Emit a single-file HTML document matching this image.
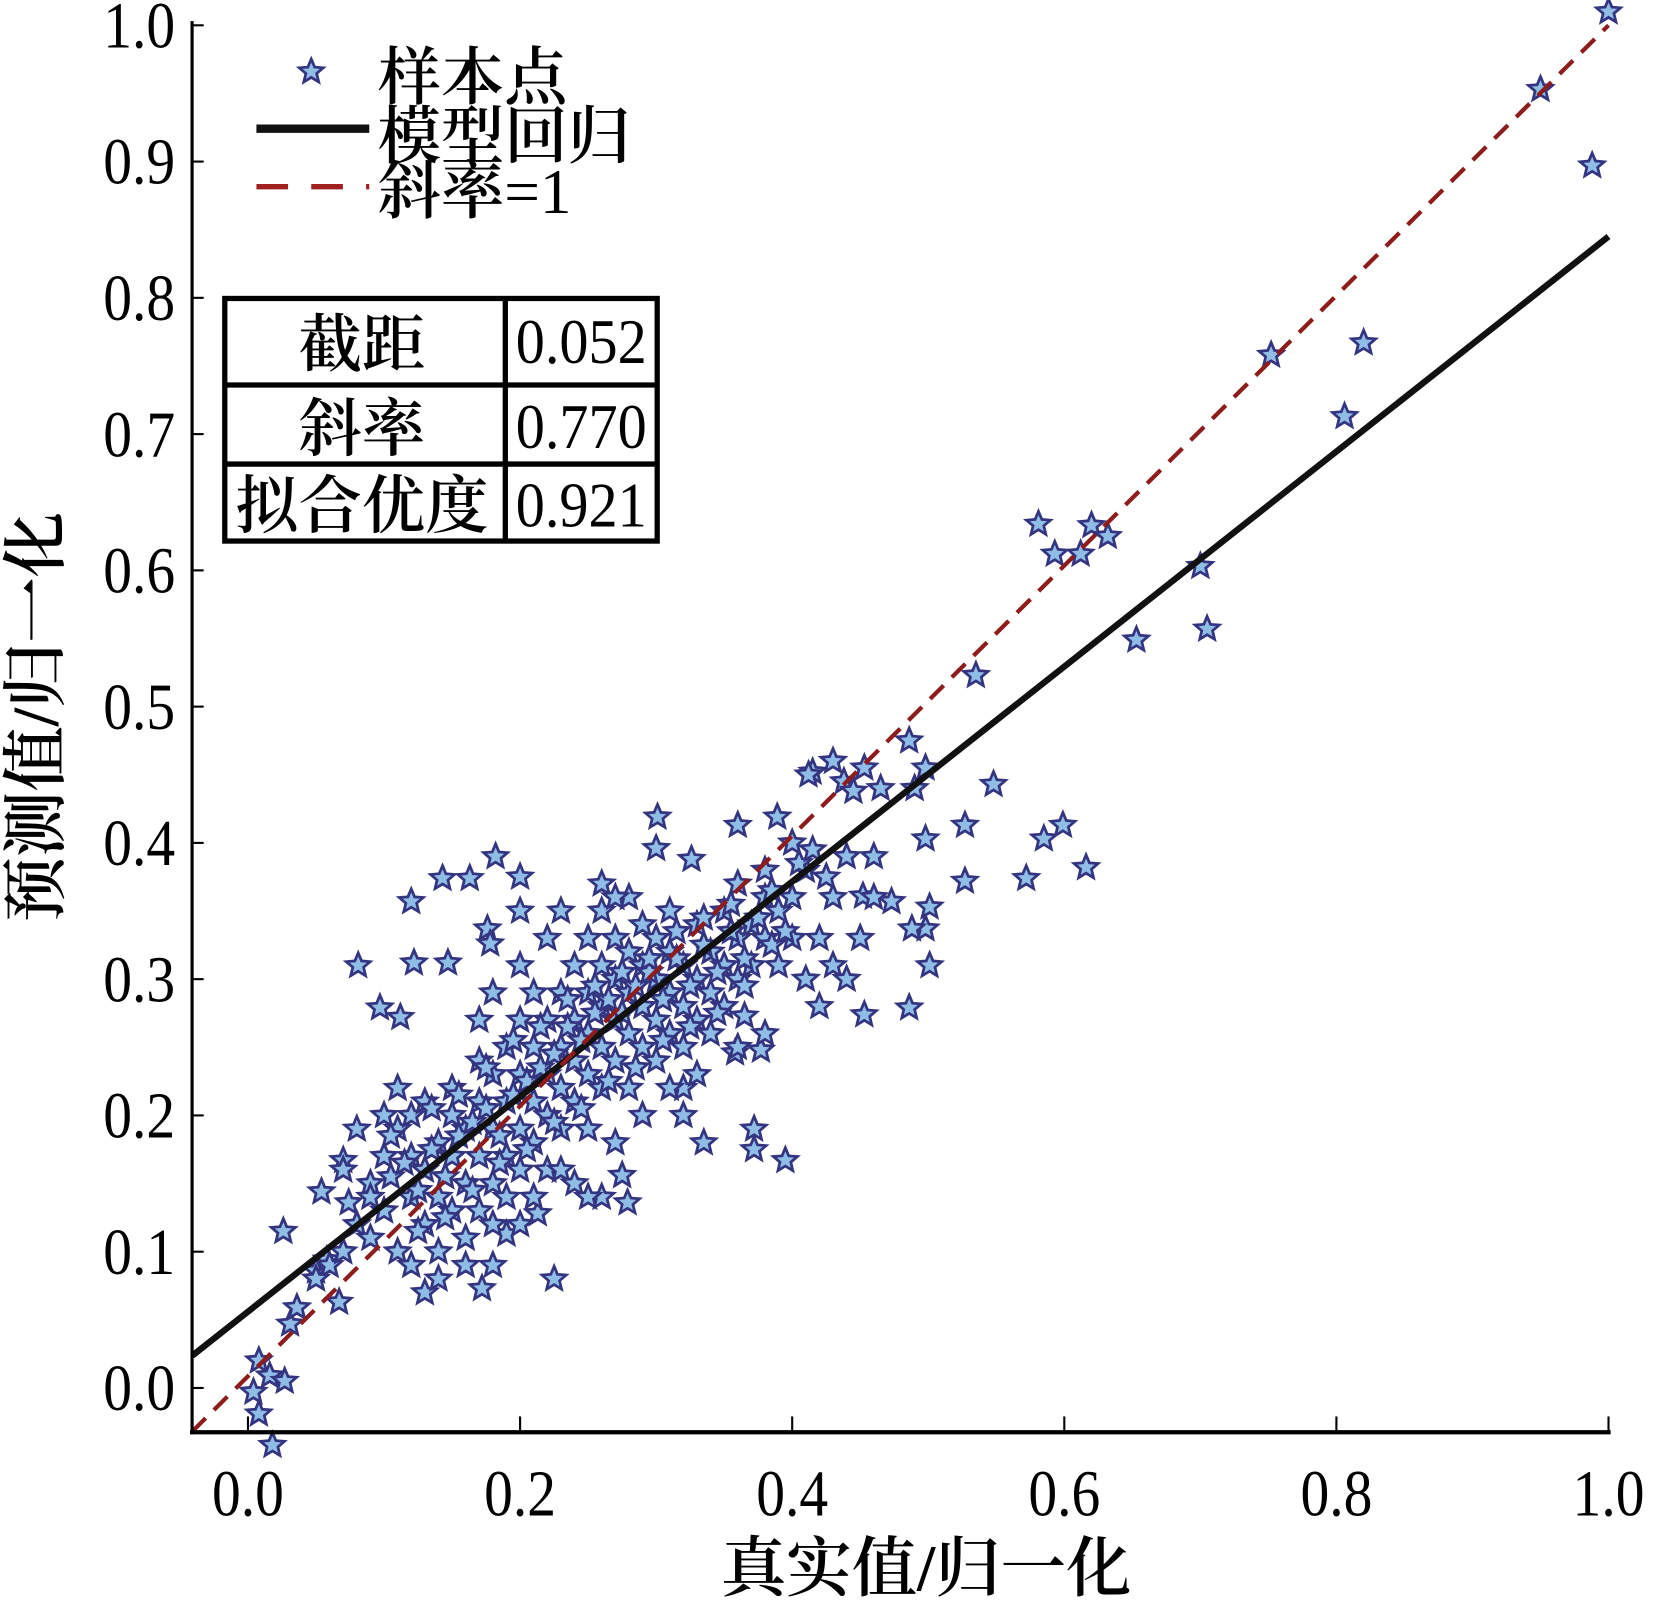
<!DOCTYPE html>
<html><head><meta charset="utf-8"><style>
html,body{margin:0;padding:0;background:#fff;}
svg{display:block;}
text{font-family:"Liberation Serif","Noto Serif CJK SC",serif;fill:#000;}
.cjk{font-weight:600;}
</style></head><body>
<svg id="chart" width="1654" height="1601" viewBox="0 0 1568 1518" xmlns="http://www.w3.org/2000/svg">
<g id="pts"></g>
<g id="lines"></g>
<g id="axes"></g>
<text class="cjk" x="878" y="1508" font-size="62" text-anchor="middle">真实值/归一化</text>
<text class="cjk" transform="translate(55,680) rotate(-90)" font-size="62" text-anchor="middle">预测值/归一化</text>
<g>
<g id="legstar"></g>
<text class="cjk" x="358" y="94" font-size="60">样本点</text>
<line x1="243" y1="122" x2="350" y2="122" stroke="#111" stroke-width="8"/>
<text class="cjk" x="358" y="150" font-size="60">模型回归</text>
<line x1="243" y1="177" x2="350" y2="177" stroke="#a02020" stroke-width="5" stroke-dasharray="30 22"/>
<text class="cjk" x="358" y="202" font-size="60">斜率<tspan font-weight="normal">=1</tspan></text>
</g>
<g font-size="60">
<rect x="213" y="283" width="410" height="230" fill="#fff" stroke="#000" stroke-width="5"/>
<line x1="213" y1="365" x2="623" y2="365" stroke="#000" stroke-width="5"/>
<line x1="213" y1="440" x2="623" y2="440" stroke="#000" stroke-width="5"/>
<line x1="479" y1="283" x2="479" y2="513" stroke="#000" stroke-width="5"/>
<text class="cjk" x="343" y="347" text-anchor="middle">截距</text>
<text transform="translate(551,344) scale(0.92,1)" text-anchor="middle">0.052</text>
<text class="cjk" x="343" y="427" text-anchor="middle">斜率</text>
<text transform="translate(551,425) scale(0.92,1)" text-anchor="middle">0.770</text>
<text class="cjk" x="343" y="500" text-anchor="middle">拟合优度</text>
<text transform="translate(551,499) scale(0.92,1)" text-anchor="middle">0.921</text>
</g>
</svg>
<script>
const xTicks=[0.0,0.2,0.4,0.6,0.8,1.0];
const yTicks=[0.0,0.1,0.2,0.3,0.4,0.5,0.6,0.7,0.8,0.9,1.0];
const fitIntercept=0.056;
const fitSlope=0.789;
const sampleX=[1.0,0.95,0.988,0.752,0.82,0.806,0.581,0.593,0.612,0.62,0.632,0.7,0.705,0.653,0.535,0.486,0.498,0.548,0.43,0.415,0.438,0.453,0.465,0.412,0.445,0.49,0.301,0.36,0.389,0.599,0.585,0.527,0.498,0.572,0.616,0.527,0.182,0.2,0.143,0.163,0.12,0.081,0.122,0.147,0.097,0.112,0.176,0.178,0.326,0.3,0.501,0.498,0.501,0.486,0.453,0.365,0.335,0.372,0.372,0.395,0.377,0.358,0.225,0.172,0.026,0.067,0.008,0.016,0.027,0.004,0.008,0.018,0.031,0.036,0.05,0.058,0.054,0.07,0.074,0.279,0.26,0.275,0.213,0.19,0.488,0.473,0.452,
0.08,0.09,0.1,0.1,0.11,0.11,0.12,0.12,0.12,0.13,0.13,0.13,0.14,0.14,0.14,0.15,0.15,0.15,0.15,0.16,0.16,0.16,0.17,0.17,0.17,0.17,0.18,0.18,0.18,0.18,0.19,0.19,0.19,0.19,0.2,0.2,0.2,0.2,0.21,0.21,0.21,0.21,0.22,0.22,0.22,0.22,0.23,0.23,0.23,0.23,0.24,0.24,0.24,0.24,0.25,0.25,0.25,0.25,0.25,0.26,0.26,0.26,0.26,0.26,0.27,0.27,0.27,0.27,0.28,0.28,0.28,0.28,0.28,0.29,0.29,0.29,0.29,0.3,0.3,0.3,0.3,0.31,0.31,0.31,0.31,0.32,0.32,0.32,0.32,0.33,0.33,0.33,0.34,0.34,0.34,0.35,0.35,0.35,0.36,0.36,0.37,0.37,0.38,0.38,0.39,0.39,0.4,0.4,0.41,0.41,
0.06,0.07,0.05,0.09,0.1,0.11,0.12,0.13,0.14,0.16,0.07,0.08,0.09,0.18,0.2,0.21,0.23,0.24,0.27,0.25,0.29,0.31,0.32,0.33,0.36,0.38,0.42,0.43,0.44,0.42,0.45,0.46,0.43,0.44,0.46,0.4,0.38,0.36,0.26,0.27,0.22,0.2,0.18,0.17,0.23,0.2,
0.105,0.115,0.125,0.135,0.145,0.155,0.165,0.175,0.185,0.195,0.205,0.215,0.225,0.235,0.245,0.255,0.265,0.275,0.285,0.295,0.305,0.315,0.325,0.335,0.345,0.355,0.365,0.375,0.385,0.395,0.125,0.145,0.165,0.185,0.205,0.225,0.245,0.265,0.285,0.305,0.325,0.345,0.365,0.105,0.135,0.155,0.175,0.195,0.215,0.235,0.255,0.275,0.295,0.315,0.335,0.355,0.385,0.405,0.415,0.425];
const sampleY=[1.01,0.953,0.897,0.758,0.767,0.713,0.634,0.612,0.612,0.633,0.625,0.603,0.557,0.549,0.523,0.475,0.455,0.443,0.46,0.452,0.445,0.455,0.44,0.45,0.438,0.44,0.419,0.413,0.419,0.413,0.403,0.413,0.403,0.374,0.382,0.372,0.39,0.375,0.374,0.374,0.357,0.31,0.312,0.312,0.279,0.272,0.337,0.326,0.388,0.396,0.353,0.337,0.31,0.279,0.274,0.273,0.18,0.19,0.175,0.167,0.248,0.246,0.08,0.073,0.115,0.063,0.02,0.009,0.005,-0.003,-0.019,-0.042,0.047,0.059,0.086,0.094,0.144,0.167,0.136,0.136,0.14,0.156,0.128,0.113,0.337,0.357,0.361,
0.12,0.15,0.17,0.13,0.19,0.1,0.14,0.2,0.17,0.12,0.16,0.21,0.14,0.18,0.1,0.13,0.17,0.2,0.22,0.11,0.15,0.19,0.13,0.17,0.21,0.24,0.15,0.19,0.12,0.23,0.17,0.21,0.25,0.14,0.19,0.23,0.16,0.27,0.21,0.25,0.18,0.29,0.23,0.27,0.2,0.16,0.25,0.29,0.22,0.19,0.27,0.31,0.24,0.21,0.26,0.29,0.23,0.33,0.19,0.28,0.31,0.25,0.22,0.35,0.27,0.3,0.24,0.33,0.29,0.26,0.32,0.36,0.22,0.28,0.31,0.25,0.34,0.3,0.27,0.33,0.24,0.29,0.32,0.26,0.35,0.28,0.31,0.25,0.22,0.3,0.27,0.34,0.29,0.32,0.26,0.31,0.28,0.35,0.33,0.3,0.34,0.31,0.33,0.36,0.35,0.31,0.36,0.33,0.3,0.38,
0.09,0.1,0.08,0.11,0.2,0.22,0.09,0.07,0.08,0.09,0.16,0.19,0.14,0.09,0.12,0.14,0.16,0.15,0.18,0.14,0.2,0.22,0.2,0.23,0.25,0.26,0.28,0.31,0.3,0.33,0.33,0.36,0.36,0.39,0.39,0.4,0.38,0.37,0.37,0.36,0.33,0.31,0.29,0.27,0.35,0.35,
0.155,0.165,0.145,0.175,0.155,0.185,0.195,0.205,0.185,0.215,0.225,0.235,0.245,0.265,0.255,0.275,0.285,0.275,0.295,0.305,0.285,0.315,0.295,0.325,0.305,0.335,0.315,0.345,0.325,0.335,0.115,0.125,0.145,0.165,0.175,0.195,0.205,0.225,0.235,0.255,0.265,0.275,0.295,0.185,0.205,0.215,0.235,0.255,0.265,0.285,0.295,0.305,0.315,0.335,0.345,0.355,0.365,0.385,0.395,0.375];
const NS='http://www.w3.org/2000/svg';
function sx(v){return 235+v*1290;}
function sy(v){return 1316-v*1292;}
function starPath(cx,cy,r){let d='';for(let i=0;i<10;i++){const a=-Math.PI/2+i*Math.PI/5;const rr=i%2?r*0.45:r;d+=(i?'L':'M')+(cx+rr*Math.cos(a)).toFixed(1)+' '+(cy+rr*Math.sin(a)).toFixed(1);}return d+'Z';}
function mk(tag,attrs,parent){const e=document.createElementNS(NS,tag);for(const k in attrs)e.setAttribute(k,attrs[k]);parent.appendChild(e);return e;}
const pts=document.getElementById('pts');
for(let i=0;i<sampleX.length;i++){
 const p=mk('path',{d:starPath(sx(sampleX[i]),sy(sampleY[i]),12),fill:'#8fbde6',stroke:'#343480','stroke-width':2.6},pts);
 
 
}
const ls=document.getElementById('legstar');
const lp=mk('path',{d:starPath(295,68,12),fill:'#8fbde6',stroke:'#343480','stroke-width':2.6},ls);


const lines=document.getElementById('lines');
const x0=-0.041,x1=1.0;
const reg=mk('line',{x1:sx(x0),y1:sy(fitIntercept+fitSlope*x0),x2:sx(x1),y2:sy(fitIntercept+fitSlope*x1),stroke:'#111','stroke-width':6},lines);


const idl=mk('line',{x1:sx(x0),y1:sy(x0+0.009),x2:sx(x1),y2:sy(x1),stroke:'#8e1c1c','stroke-width':4,'stroke-dasharray':'18 11'},lines);


const ax=document.getElementById('axes');
const ya=mk('line',{x1:182,y1:20,x2:182,y2:1360,stroke:'#000','stroke-width':3},ax);


const xa=mk('line',{x1:180,y1:1358,x2:1527,y2:1358,stroke:'#000','stroke-width':4},ax);


xTicks.forEach(t=>{
 const tk=mk('line',{x1:sx(t),y1:1358,x2:sx(t),y2:1343,stroke:'#000','stroke-width':2},ax);
 
 
 const tl=mk('text',{transform:'translate('+sx(t)+',1437) scale(0.88,1)','font-size':62,'text-anchor':'middle'},ax);
 tl.textContent=t.toFixed(1);
 
 
});
yTicks.forEach(t=>{
 const tk=mk('line',{x1:182,y1:sy(t),x2:193,y2:sy(t),stroke:'#000','stroke-width':2},ax);
 
 
 const tl=mk('text',{transform:'translate(166,'+(sy(t)+21)+') scale(0.88,1)','font-size':62,'text-anchor':'end'},ax);
 tl.textContent=t.toFixed(1);
 
 
});
</script>
</body></html>
